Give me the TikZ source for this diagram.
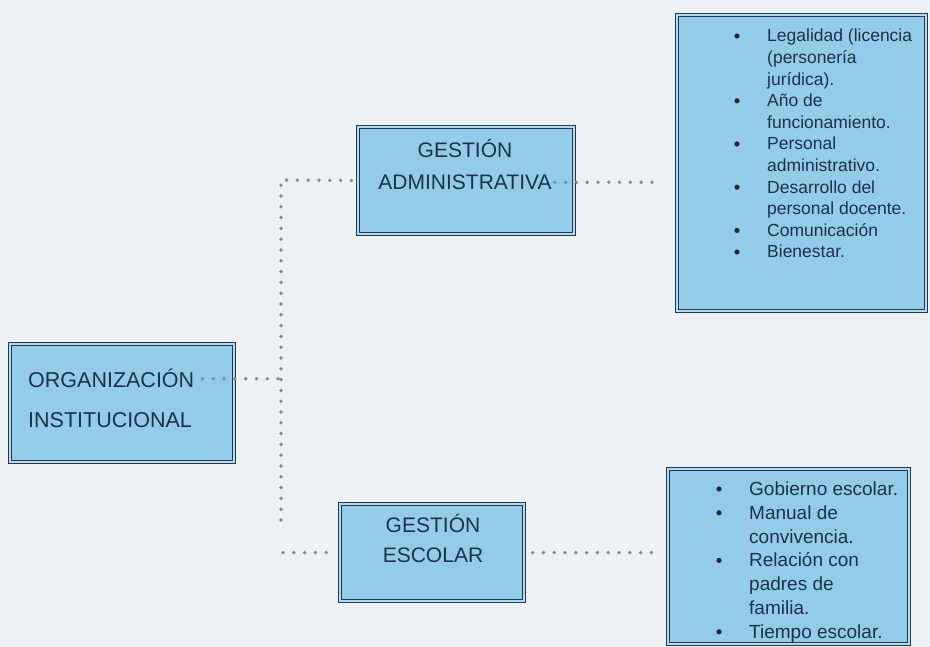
\documentclass[tikz,border=0pt]{standalone}
\usepackage{fontspec}
\setmainfont{Liberation Sans}
\definecolor{bg}{HTML}{EEF1F4}
\definecolor{boxfill}{RGB}{146,204,233}
\definecolor{boxline}{HTML}{26384C}
\definecolor{ink}{HTML}{1E3148}
\definecolor{dotc}{HTML}{7A8AA0}
\begin{document}
\begin{tikzpicture}[x=1pt,y=-1pt,
  box/.style={draw=boxline, line width=1.1pt, double=boxfill!70!white, double distance=1.6pt, fill=boxfill, inner sep=0pt, anchor=north west},
  title/.style={text=ink, inner sep=0pt, font=\fontsize{21}{25}\selectfont},
  itemA/.style={text=ink, inner sep=0pt, anchor=base west, font=\fontsize{17.5}{21}\selectfont},
  itemB/.style={text=ink, inner sep=0pt, anchor=base west, font=\fontsize{19}{23}\selectfont},
  bul/.style={fill=black!85},
  dots/.style={draw=dotc, line width=3.8pt, line cap=round, dash pattern=on 0pt off 10.8pt}]
\fill[bg] (0,0) rectangle (930,647);
\useasboundingbox (0,0) rectangle (930,647);

% boxes
\node[box, minimum width=224pt, minimum height=118pt] (org) at (9.5,343.5) {};
\node[box, minimum width=216pt, minimum height=107pt] (adm) at (357.5,126.5) {};
\node[box, minimum width=184pt, minimum height=97pt] (esc) at (339.5,503.5) {};
\node[box, minimum width=249pt, minimum height=296pt] (rtop) at (676.5,14.5) {};
\node[box, minimum width=241pt, minimum height=175pt] (rbot) at (667.5,468.5) {};

% titles
\node[title, anchor=base west, font=\fontsize{21.5}{25}\selectfont] (orgA) at (28,388) {ORGANIZACIÓN};
\node[title, anchor=base west, font=\fontsize{21.5}{25}\selectfont] (orgB) at (28,428) {INSTITUCIONAL};
\node[title, anchor=base] (admA) at (465,157.5) {GESTIÓN};
\node[title, anchor=base] (admB) at (465,189.5) {ADMINISTRATIVA};
\node[title, anchor=base] (esA) at (433,532.5) {GESTIÓN};
\node[title, anchor=base] (esB) at (433,562.5) {ESCOLAR};

% top right list
\foreach \t [count=\i from 0] in {{Legalidad (licencia}, {(personería}, {jurídica).}, {Año de}, {funcionamiento.}, {Personal}, {administrativo.}, {Desarrollo del}, {personal docente.}, {Comunicación}, {Bienestar.}}
  \node[itemA] (ta\i) at (767,{42+21.6*\i}) {\t};
\foreach \i in {0,3,5,7,9,10}
  \fill[bul] (737,{36+21.6*\i}) circle (2.6pt);

% bottom right list
\foreach \t [count=\i from 0] in {{Gobierno escolar.}, {Manual de}, {convivencia.}, {Relación con}, {padres de}, {familia.}, {Tiempo escolar.}}
  \node[itemB] (tb\i) at (749,{495.5+23.8*\i}) {\t};
\foreach \i in {0,1,3,6}
  \fill[bul] (719,{489+23.8*\i}) circle (2.6pt);

% connectors
\coordinate (vtop) at (281,180);
\coordinate (vbot) at (281,520);
\draw[dots, shorten >=5pt] (vbot) -- (vtop) -- (adm.west);
\draw[dots, shorten <=8pt] (orgA.east) -- (orgA.east -| vtop);
\draw[dots, shorten <=2pt, shorten >=4pt] (esc.west -| vtop) -- (esc.west);
\draw[dots, shorten <=3pt, shorten >=16pt] (admB.east) -- (admB.east -| rtop.west);
\draw[dots, shorten <=8pt, shorten >=8pt] (esc.east) -- (rbot.west |- esc.east);
\end{tikzpicture}
\end{document}
